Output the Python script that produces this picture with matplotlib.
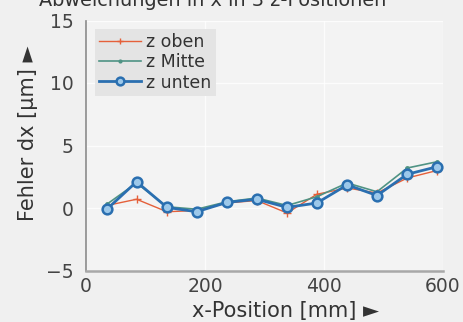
import matplotlib
matplotlib.use("Agg")
import matplotlib.pyplot as plt

x_pos = [35, 85, 136, 186, 237, 287, 338, 388, 439, 489, 540, 590]
z_oben = [0.2, 0.7, -0.3, -0.2, 0.4, 0.6, -0.4, 1.1, 1.6, 1.2, 2.4, 3.0]
z_mitte = [0.3, 2.0, 0.1, -0.1, 0.5, 0.8, 0.2, 0.9, 2.0, 1.3, 3.2, 3.7]
z_unten = [-0.1, 2.1, 0.05, -0.3, 0.45, 0.7, 0.05, 0.4, 1.85, 1.0, 2.7, 3.3]
x_ticks = [0, 200, 400, 600]
y_ticks = [-5, 0, 5, 10, 15]

plt.rcParams['font.family'] = ['DejaVu Sans']

W, H = 463, 322
fig = plt.figure(figsize=(W / 100, H / 100), dpi=100, facecolor='#f0f0f0')
L, R, T, B = 86, 443, 20.5, 270.5
ax = fig.add_axes([L / W, 1 - B / H, (R - L) / W, (B - T) / H], facecolor='#f3f3f3')

ax.plot(x_pos, z_oben, color='#e5603a', lw=1.0, marker='+', ms=6, mew=1.0, label='z oben')
ax.plot(x_pos, z_mitte, color='#4f9384', lw=1.2, marker='.', ms=5, label='z Mitte')
ax.plot(x_pos, z_unten, color='#2a6fb0', lw=2.0, marker='o', ms=7,
        mfc='#9cc8ea', mec='#2a6fb0', mew=1.8, label='z unten')

ax.set_xlim(0, 600)
ax.set_ylim(-5, 15)
ax.set_xticks(x_ticks)
ax.set_yticks(y_ticks)
ax.grid(True, color='#ffffff', lw=1.0, alpha=0.8)
ax.set_axisbelow(True)
for s in ['top', 'right']:
    ax.spines[s].set_visible(False)
ax.spines['left'].set_color('#8a8a8a')
ax.spines['left'].set_linewidth(1.2)
ax.spines['bottom'].set_color('#a8a8a8')
ax.spines['bottom'].set_linewidth(1.8)
ax.tick_params(axis='both', labelsize=13.5, colors='#444444', length=0)
ax.tick_params(axis='y', pad=9)
ax.tick_params(axis='x', pad=5)

ax.set_xlabel('x-Position [mm] ►', fontsize=15, color='#333333', va='center')
ax.xaxis.set_label_coords((285 - L) / (R - L), (B - 311) / (B - T))
ax.set_ylabel('Fehler dx [µm] ►', fontsize=15, color='#333333', va='center')
ax.yaxis.set_label_coords((28 - L) / (R - L), (B - 133) / (B - T))

fig.text(213 / W, 1 - 6.5 / H, 'Abweichungen in x in 3 z-Positionen', fontsize=13.9,
         color='#333333', ha='center', va='baseline')

leg = ax.legend(loc='upper left', bbox_to_anchor=((95 - L) / (R - L), (B - 29) / (B - T)),
                fontsize=12.5, frameon=True, fancybox=False, borderaxespad=0,
                handlelength=2.4, handletextpad=0.3, labelspacing=0.12,
                borderpad=0.25, markerscale=0.8)
leg.get_frame().set_facecolor('#e4e4e4')
leg.get_frame().set_edgecolor('none')
leg.get_frame().set_alpha(1.0)
for t in leg.get_texts():
    t.set_color('#333333')

fig.savefig('out.png', dpi=100, facecolor=fig.get_facecolor())
